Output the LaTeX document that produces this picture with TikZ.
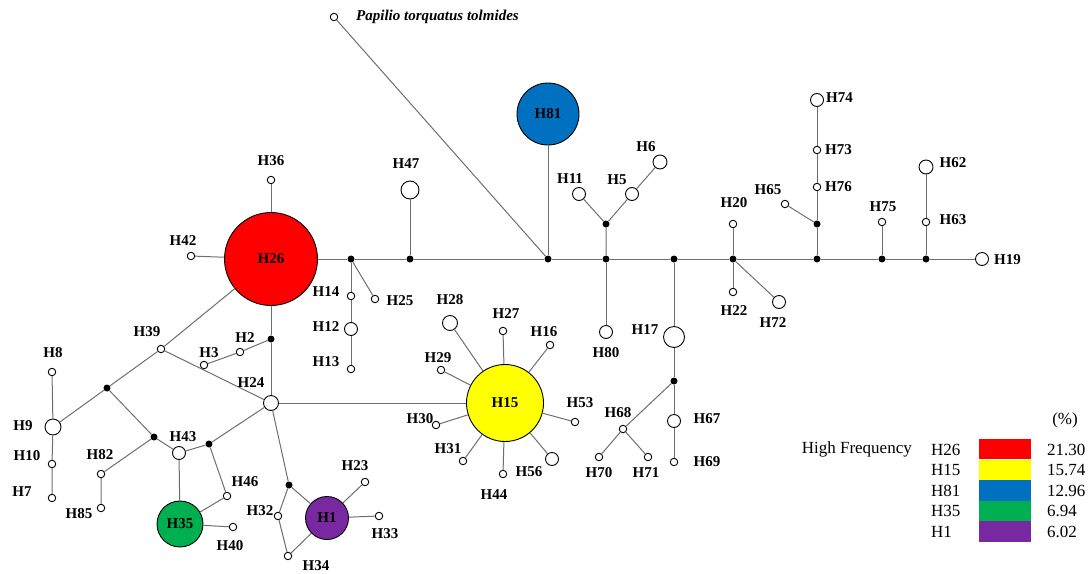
\documentclass[tikz,border=0pt]{standalone}
\usepackage{fontspec}
\setmainfont{Liberation Serif}
\usepackage{tikz}
\definecolor{hfred}{RGB}{255,0,0}
\definecolor{hfyellow}{RGB}{255,255,0}
\definecolor{hfblue}{RGB}{0,112,192}
\definecolor{hfgreen}{RGB}{0,176,80}
\definecolor{hfpurple}{RGB}{120,40,160}
\definecolor{linegray}{RGB}{110,110,110}
\tikzset{
  hap/.style={circle, draw=black, fill=white, inner sep=0pt, line width=0.9pt},
  smallhap/.style={hap, minimum size=7.5pt},
  midhap/.style={hap, minimum size=13pt},
  bighap/.style={hap, font=\fontsize{15}{18}\selectfont\bfseries},
  mv/.style={circle, fill=black, inner sep=0pt, minimum size=7pt},
  lbl/.style={font=\fontsize{15}{18}\selectfont\bfseries, inner sep=0pt},
  leg/.style={font=\fontsize{17}{20}\selectfont, inner sep=0pt},
  ln/.style={draw=linegray, line width=1pt}
}

\begin{document}
\begin{tikzpicture}[x=1pt,y=-1pt]
\useasboundingbox (0,0) rectangle (1089,573);
\node[bighap, fill=hfred, minimum size=93pt] (h26) at (271,259) {H26};
\node[bighap, fill=hfyellow, minimum size=77pt] (h15) at (505,403) {H15};
\node[bighap, fill=hfblue, minimum size=62pt] (h81) at (548,114) {H81};
\node[bighap, fill=hfgreen, minimum size=46pt] (h35) at (180,524) {H35};
\node[bighap, fill=hfpurple, minimum size=43pt] (h1) at (327,518) {H1};
\node[mv] (j1) at (351,259) {};
\node[mv] (j2) at (410,259) {};
\node[mv] (j3) at (548,259) {};
\node[mv] (j4) at (606,259) {};
\node[mv] (j5) at (606,224) {};
\node[mv] (j6) at (674,259) {};
\node[mv] (j7) at (674,381) {};
\node[mv] (j8) at (733,259) {};
\node[mv] (j9) at (817,259) {};
\node[mv] (j10) at (817,224) {};
\node[mv] (j11) at (882,259) {};
\node[mv] (j12) at (926,259) {};
\node[mv] (j13) at (271,339) {};
\node[mv] (j14) at (107,388) {};
\node[mv] (j15) at (154,437) {};
\node[mv] (j16) at (209,444) {};
\node[mv] (j17) at (289,485) {};
\node[smallhap] (pap) at (334,17) {};
\node[smallhap] (h36) at (271,180) {};
\node[smallhap] (h42) at (191,256) {};
\node[hap, minimum size=18pt] (h47) at (410,190) {};
\node[smallhap] (h14) at (351,296) {};
\node[smallhap] (h25) at (375,299) {};
\node[midhap] (h12) at (351,329) {};
\node[smallhap] (h13) at (351,369) {};
\node[midhap] (h11) at (579,194) {};
\node[midhap] (h5) at (632,194) {};
\node[hap, minimum size=14pt] (h6) at (660,162) {};
\node[midhap] (h80) at (606,332) {};
\node[hap, minimum size=21pt] (h17) at (674,337) {};
\node[midhap] (h67) at (674,421) {};
\node[smallhap] (h69) at (674,462) {};
\node[smallhap] (h68) at (623,429) {};
\node[smallhap] (h70) at (599,457) {};
\node[smallhap] (h71) at (648,457) {};
\node[smallhap] (h20) at (733,224) {};
\node[smallhap] (h22) at (733,292) {};
\node[midhap] (h72) at (779,302) {};
\node[smallhap] (h65) at (785,204) {};
\node[smallhap] (h76) at (817,187) {};
\node[smallhap] (h73) at (817,150) {};
\node[midhap] (h74) at (817,100) {};
\node[smallhap] (h75) at (882,222) {};
\node[smallhap] (h63) at (926,222) {};
\node[hap, minimum size=14pt] (h62) at (926,167) {};
\node[midhap] (h19) at (982,259) {};
\node[smallhap] (h2) at (240,352) {};
\node[smallhap] (h3) at (204,365) {};
\node[hap, minimum size=15pt] (h24) at (271,403) {};
\node[smallhap] (h39) at (161,349) {};
\node[smallhap] (h8) at (52,372) {};
\node[hap, minimum size=16pt] (h9) at (53,427) {};
\node[smallhap] (h10) at (52,464) {};
\node[smallhap] (h7) at (52,498) {};
\node[midhap] (h43) at (179,453) {};
\node[smallhap] (h82) at (101,474) {};
\node[smallhap] (h85) at (101,508) {};
\node[smallhap] (h46) at (227,496) {};
\node[smallhap] (h40) at (233,527) {};
\node[smallhap] (h32) at (278,516) {};
\node[smallhap] (h34) at (288,556) {};
\node[smallhap] (h23) at (365,482) {};
\node[smallhap] (h33) at (379,516) {};
\node[hap, minimum size=15pt] (h28) at (450,323) {};
\node[smallhap] (h27) at (503,331) {};
\node[smallhap] (h16) at (550,345) {};
\node[smallhap] (h29) at (441,370) {};
\node[smallhap] (h53) at (575,422) {};
\node[smallhap] (h30) at (436,425) {};
\node[smallhap] (h31) at (463,461) {};
\node[smallhap] (h44) at (503,474) {};
\node[midhap] (h56) at (552,459) {};
\begin{scope}[on background layer/.try]
\draw[ln] (h42) -- (h26);
\draw[ln] (h36) -- (h26);
\draw[ln] (h26) -- (j1) -- (j2) -- (j3) -- (j4) -- (j6) -- (j8) -- (j9) -- (j11) -- (j12) -- (h19);
\draw[ln] (j2) -- (h47);
\draw[ln] (j1) -- (h14) -- (h12) -- (h13);
\draw[ln] (j1) -- (h25);
\draw[ln] (pap) -- (j3);
\draw[ln] (h81) -- (j3);
\draw[ln] (j4) -- (j5) -- (h11);
\draw[ln] (j5) -- (h5) -- (h6);
\draw[ln] (j4) -- (h80);
\draw[ln] (j6) -- (h17) -- (j7) -- (h67) -- (h69);
\draw[ln] (j7) -- (h68) -- (h70);
\draw[ln] (h68) -- (h71);
\draw[ln] (j8) -- (h20);
\draw[ln] (j8) -- (h22);
\draw[ln] (j8) -- (h72);
\draw[ln] (j9) -- (j10) -- (h76) -- (h73) -- (h74);
\draw[ln] (j10) -- (h65);
\draw[ln] (j11) -- (h75);
\draw[ln] (j12) -- (h63) -- (h62);
\draw[ln] (h26) -- (j13) -- (h24);
\draw[ln] (j13) -- (h2) -- (h3);
\draw[ln] (h26) -- (h39) -- (h24);
\draw[ln] (h39) -- (j14) -- (h9);
\draw[ln] (h8) -- (h9) -- (h10) -- (h7);
\draw[ln] (j14) -- (j15) -- (h43);
\draw[ln] (j15) -- (h82) -- (h85);
\draw[ln] (h43) -- (j16) -- (h24);
\draw[ln] (j16) -- (h46) -- (h35);
\draw[ln] (h43) -- (h35);
\draw[ln] (h35) -- (h40);
\draw[ln] (h24) -- (j17) -- (h1);
\draw[ln] (j17) -- (h32) -- (h34) -- (h1);
\draw[ln] (h1) -- (h23);
\draw[ln] (h1) -- (h33);
\draw[ln] (h24) -- (h15);
\foreach \s in {h28,h27,h16,h29,h53,h30,h31,h44,h56}
  \draw[ln] (h15) -- (\s);
\end{scope}
\node[lbl, anchor=west] (tpap) at (356,17) {\itshape Papilio torquatus tolmides};
\node[lbl] (t36) at (271,161) {H36};
\node[lbl] (t42) at (183,241) {H42};
\node[lbl] (t47) at (406,164) {H47};
\node[lbl] (t14) at (326,292) {H14};
\node[lbl] (t25) at (400,301) {H25};
\node[lbl] (t12) at (326,327) {H12};
\node[lbl] (t13) at (326,362) {H13};
\node[lbl] (t11) at (570,179) {H11};
\node[lbl] (t5) at (617,180) {H5};
\node[lbl] (t6) at (646,147) {H6};
\node[lbl] (t80) at (606,353) {H80};
\node[lbl] (t17) at (645,330) {H17};
\node[lbl] (t67) at (707,419) {H67};
\node[lbl] (t69) at (707,462) {H69};
\node[lbl] (t68) at (618,413) {H68};
\node[lbl] (t70) at (599,473) {H70};
\node[lbl] (t71) at (646,473) {H71};
\node[lbl] (t20) at (734,203) {H20};
\node[lbl] (t22) at (734,311) {H22};
\node[lbl] (t72) at (773,323) {H72};
\node[lbl] (t65) at (768,190) {H65};
\node[lbl, anchor=west] (t74) at (826,98) {H74};
\node[lbl, anchor=west] (t73) at (825,150) {H73};
\node[lbl, anchor=west] (t76) at (825,187) {H76};
\node[lbl] (t75) at (883,207) {H75};
\node[lbl] (t63) at (953,220) {H63};
\node[lbl] (t62) at (953,163) {H62};
\node[lbl, anchor=west] (t19) at (994,260) {H19};
\node[lbl] (t39) at (147,332) {H39};
\node[lbl] (t2) at (245,338) {H2};
\node[lbl] (t3) at (209,353) {H3};
\node[lbl] (t24) at (251,383) {H24};
\node[lbl] (t8) at (53,353) {H8};
\node[lbl] (t9) at (23,426) {H9};
\node[lbl] (t10) at (27,456) {H10};
\node[lbl] (t7) at (22,492) {H7};
\node[lbl] (t43) at (183,437) {H43};
\node[lbl] (t82) at (100,455) {H82};
\node[lbl] (t85) at (79,514) {H85};
\node[lbl] (t46) at (245,482) {H46};
\node[lbl] (t40) at (230,546) {H40};
\node[lbl] (t32) at (260,511) {H32};
\node[lbl] (t34) at (316,566) {H34};
\node[lbl] (t23) at (355,466) {H23};
\node[lbl] (t33) at (385,534) {H33};
\node[lbl] (t28) at (450,300) {H28};
\node[lbl] (t27) at (506,314) {H27};
\node[lbl] (t16) at (544,332) {H16};
\node[lbl] (t29) at (438,358) {H29};
\node[lbl] (t53) at (580,403) {H53};
\node[lbl] (t30) at (420,419) {H30};
\node[lbl] (t31) at (448,449) {H31};
\node[lbl] (t44) at (494,495) {H44};
\node[lbl] (t56) at (529,472) {H56};
\node[leg] (pct) at (1065,420) {(\%)};
\node[leg, anchor=east] (hf) at (912,449) {High Frequency};
\foreach \n/\c/\v [count=\i from 0] in {H26/hfred/21.30, H15/hfyellow/15.74, H81/hfblue/12.96, H35/hfgreen/6.94, H1/hfpurple/6.02} {
  \fill[\c] (979,{439+20.6*\i}) rectangle (1031,{459.4+20.6*\i});
  \node[leg, anchor=west] (ln\i) at (931,{449.5+20.6*\i}) {\n};
  \node[leg, anchor=west] (lv\i) at (1047,{449.5+20.6*\i}) {\v};
}
\end{tikzpicture}
\end{document}
